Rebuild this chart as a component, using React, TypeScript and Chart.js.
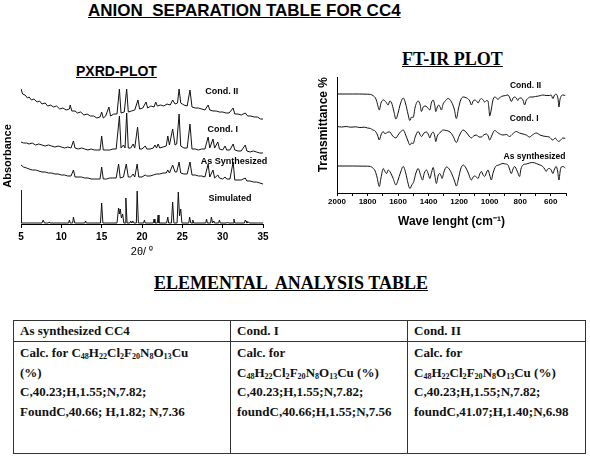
import React, { useEffect, useRef } from 'react';
import { Chart, registerables } from 'chart.js';

Chart.register(...registerables);

// ---------------- PXRD data (2θ in degrees, stacked absorbance, arbitrary units) ----------------
const xrdCond2: [number, number][] = [
  [5, 135], [5.2, 130], [5.5, 129], [5.8, 126], [6, 127], [6.3, 124], [6.6, 125], [7, 122], [7.3, 123], [7.6, 120],
  [8, 121], [8.3, 118], [8.7, 119], [9, 117], [9.4, 118], [9.8, 115], [10.2, 116], [10.6, 114], [11, 115], [11.1, 119],
  [11.3, 113], [11.7, 113], [12, 111], [12.4, 112], [12.8, 109], [13.2, 110], [13.6, 108], [14, 108], [14.4, 106], [14.8, 107],
  [15, 112], [15.2, 106], [15.5, 108], [15.9, 117], [16.1, 108], [16.5, 110], [16.9, 110], [17.2, 135], [17.4, 111], [17.8, 112],
  [18.1, 135], [18.3, 112], [18.7, 113], [19.1, 114], [19.5, 124], [19.7, 115], [20.1, 116], [20.5, 122], [20.7, 116], [21.1, 118],
  [21.5, 117], [21.7, 122], [21.9, 118], [22.3, 119], [22.7, 118], [23.1, 120], [23.5, 119], [23.8, 124], [24.1, 120], [24.4, 121],
  [24.6, 135], [24.8, 121], [25.2, 119], [25.6, 118], [25.95, 134], [26.2, 117], [26.6, 116], [27, 116], [27.4, 115], [27.8, 114],
  [28.2, 119], [28.4, 114], [28.8, 113], [29.2, 113], [29.6, 112], [30, 112], [30.4, 111], [30.8, 111], [31.3, 116], [31.5, 110],
  [31.9, 110], [32.3, 109], [32.8, 111], [33.1, 108], [33.5, 108], [33.9, 107], [34.3, 107], [34.7, 105], [35, 105],
];

const xrdCond1: [number, number][] = [
  [5, 82], [5.3, 81], [5.7, 81], [6, 80], [6.4, 81], [6.8, 79], [7.2, 80], [7.6, 79], [8, 78], [8.4, 79],
  [8.8, 78], [9.2, 77], [9.6, 78], [10, 77], [10.4, 76], [10.8, 77], [11.2, 76], [11.5, 83], [11.7, 76], [12.1, 75],
  [12.5, 76], [12.9, 75], [13.3, 74], [13.7, 75], [14.1, 74], [14.5, 74], [14.8, 74], [15, 88], [15.2, 74], [15.6, 74],
  [16, 74], [16.4, 75], [16.8, 75], [17.2, 108], [17.4, 76], [17.7, 79], [17.9, 76], [18.1, 111], [18.3, 76], [18.6, 76],
  [18.9, 80], [19.1, 76], [19.45, 97], [19.7, 75], [20, 75], [20.4, 78], [20.6, 75], [21, 75], [21.4, 76], [21.6, 79],
  [21.8, 76], [22, 80], [22.2, 76], [22.6, 77], [23, 78], [23.2, 88], [23.4, 79], [23.8, 95], [24.1, 79], [24.3, 80],
  [24.6, 110], [24.8, 78], [25.2, 76], [25.6, 76], [25.95, 100], [26.2, 75], [26.6, 75], [27, 74], [27.4, 75], [27.8, 75],
  [28.2, 87], [28.4, 76], [28.8, 85], [29, 76], [29.4, 82], [29.6, 75], [30, 74], [30.3, 78], [30.5, 74], [30.9, 74],
  [31.3, 80], [31.5, 74], [31.9, 73], [32.3, 73], [32.8, 79], [33, 73], [33.4, 72], [33.8, 73], [34.2, 72], [34.6, 71], [35, 71],
];

const xrdAsSynth: [number, number][] = [
  [5, 59], [5.3, 57], [5.7, 56], [6, 55], [6.4, 54], [6.8, 54], [7.2, 53], [7.6, 52], [8, 52], [8.4, 51],
  [8.8, 51], [9.2, 50], [9.6, 50], [10, 49], [10.4, 49], [10.8, 48], [11.2, 48], [11.5, 54], [11.7, 47], [12.1, 47],
  [12.5, 47], [12.9, 46], [13.3, 46], [13.7, 45], [14.1, 45], [14.5, 45], [14.8, 45], [15, 57], [15.2, 45], [15.6, 45],
  [16, 46], [16.4, 46], [16.8, 46], [17.1, 60], [17.3, 46], [17.7, 47], [18.05, 60], [18.3, 47], [18.6, 47], [18.9, 50],
  [19.1, 47], [19.4, 60], [19.6, 47], [20, 47], [20.4, 49], [20.6, 48], [21, 48], [21.4, 49], [21.8, 50], [22.2, 50],
  [22.6, 51], [23, 51], [23.2, 54], [23.4, 51], [23.8, 59], [24.1, 52], [24.3, 52], [24.6, 62], [24.8, 51], [25.2, 50],
  [25.6, 50], [25.95, 62], [26.2, 49], [26.6, 49], [27, 48], [27.4, 48], [27.8, 47], [28.2, 60], [28.4, 47], [28.8, 54],
  [29, 46], [29.4, 49], [29.6, 46], [30, 45], [30.3, 47], [30.5, 45], [30.9, 45], [31.3, 62], [31.5, 44], [31.9, 44],
  [32.3, 44], [32.8, 46], [33, 43], [33.4, 43], [33.8, 42], [34.2, 42], [34.6, 41], [35, 40],
];

const xrdSimulated: [number, number][] = [
  [5, 34], [5.02, 1], [5.5, 1], [6, 1], [7, 1], [7.6, 1], [7.75, 4], [7.9, 1], [8.4, 1], [8.5, 2],
  [8.6, 1], [10, 1], [10.9, 1], [11, 4], [11.1, 1], [11.4, 1], [11.5, 7], [11.65, 1], [12.9, 1], [13, 3],
  [13.1, 1], [14.85, 1], [15, 21], [15.15, 1], [16.9, 1], [17.1, 16], [17.2, 10], [17.3, 15], [17.45, 6], [17.6, 10],
  [17.75, 1], [17.9, 1], [18, 26], [18.15, 1], [18.5, 1], [18.6, 3], [18.75, 1], [18.85, 3], [19, 1], [19.3, 1],
  [19.4, 33], [19.55, 1], [20.2, 1], [20.3, 4], [20.4, 1], [21.4, 1], [21.5, 5], [21.6, 1], [21.9, 1], [22, 9],
  [22.1, 1], [23.05, 1], [23.2, 7], [23.3, 1], [23.65, 1], [23.8, 22], [23.95, 1], [24.35, 1], [24.5, 32], [24.65, 8],
  [24.8, 15], [24.95, 1], [25.8, 1], [25.9, 7], [26.05, 1], [26.2, 1], [26.3, 4], [26.4, 1], [27.9, 1], [28, 5],
  [28.1, 1], [28.5, 1], [28.6, 7], [28.75, 1], [28.8, 1], [28.9, 3], [29, 1], [29.5, 1], [29.6, 4], [29.7, 1],
  [30.5, 1], [30.6, 2], [30.7, 1], [31.3, 1], [31.4, 5], [31.5, 1], [32.7, 1], [32.8, 4], [32.9, 3], [33, 1],
  [33.2, 2], [33.3, 1], [34.3, 1], [34.4, 1], [35, 1],
];

const xrdLabels = [
  { text: 'Cond. II', x: 29.9, y: 132 },
  { text: 'Cond. I', x: 30.0, y: 94 },
  { text: 'As Synthesized', x: 31.4, y: 62 },
  { text: 'Simulated', x: 30.9, y: 25 },
];

// ---------------- FT-IR data (wavenumber cm-1, stacked transmittance) ----------------
const irCond2: [number, number][] = [
  [2000, 99], [1900, 99], [1800, 98.8], [1780, 98.5], [1760, 97], [1745, 94], [1735, 89], [1723, 83], [1712, 90], [1697, 93],
  [1682, 91.5], [1665, 88], [1654, 92], [1642, 90], [1628, 82], [1614, 74], [1600, 80], [1585, 89], [1566, 95], [1550, 89],
  [1535, 79], [1523, 72.5], [1512, 76], [1501, 75.5], [1488, 86], [1468, 92], [1455, 88], [1447, 81.5], [1435, 86], [1425, 87],
  [1410, 86], [1392, 83], [1382, 90], [1370, 93], [1360, 88], [1353, 81.5], [1343, 86], [1333, 88], [1325, 86], [1316, 83],
  [1305, 89], [1294, 91.5], [1272, 94.5], [1250, 91], [1232, 84], [1218, 74.5], [1205, 84], [1190, 93], [1174, 96], [1150, 95],
  [1130, 92], [1120, 88], [1108, 92], [1098, 93], [1086, 92], [1076, 90], [1065, 93], [1054, 94.5], [1043, 93], [1033, 91],
  [1020, 92.5], [1011, 92], [1005, 85], [1000, 77], [990, 83], [980, 92], [967, 96], [955, 95], [946, 93.5], [930, 96],
  [913, 97], [895, 97.5], [880, 98], [868, 95], [858, 91.5], [847, 95], [837, 96], [826, 95], [815, 92.5], [805, 95],
  [795, 95], [782, 93], [771, 88], [760, 93], [750, 94.5], [735, 96], [717, 96], [700, 96.5], [680, 97], [665, 97.5],
  [652, 98], [630, 97.5], [610, 97.5], [597, 98], [586, 94.5], [575, 98], [564, 98.7], [552, 94], [546, 86], [540, 93],
  [531, 97], [520, 98], [505, 97.5],
];

const irCond1: [number, number][] = [
  [2000, 66.5], [1970, 66], [1940, 66.5], [1910, 65.8], [1880, 66.2], [1850, 65.5], [1820, 65.8], [1800, 65], [1780, 64.5], [1765, 63],
  [1750, 62], [1735, 58], [1723, 53], [1712, 58], [1697, 61.5], [1688, 59.5], [1675, 60], [1665, 61], [1654, 61], [1640, 58],
  [1628, 56], [1614, 55], [1600, 58], [1585, 61], [1566, 63], [1550, 58], [1535, 52], [1523, 48], [1512, 50], [1501, 49.5],
  [1488, 56], [1468, 61.5], [1455, 58], [1447, 56.5], [1430, 60], [1414, 61], [1400, 58], [1392, 55], [1382, 59], [1370, 61],
  [1360, 57], [1353, 51.5], [1343, 57], [1327, 60], [1305, 63], [1285, 62.5], [1260, 61], [1240, 57], [1218, 50.5], [1200, 57],
  [1174, 63], [1150, 60], [1130, 56], [1120, 55], [1105, 57], [1087, 58], [1070, 56], [1054, 56], [1040, 58], [1022, 59],
  [1010, 57], [1000, 53], [990, 56], [967, 62.5], [945, 60], [913, 58], [890, 58.5], [870, 56.5], [850, 59], [826, 61.5],
  [805, 60], [782, 59], [760, 58], [739, 56], [720, 58], [695, 60], [670, 58], [650, 57], [630, 56.5], [610, 56],
  [586, 53], [570, 55], [560, 53], [546, 51.5], [535, 53], [520, 55], [505, 54.7],
];

const irAsSynth: [number, number][] = [
  [2000, 27], [1900, 27], [1800, 26.8], [1780, 26.5], [1765, 25], [1750, 22], [1738, 16], [1723, 6.5], [1712, 15], [1697, 24.5],
  [1688, 22], [1675, 19.5], [1665, 23], [1654, 21.5], [1642, 18], [1632, 14.5], [1614, 8], [1600, 13], [1585, 20], [1566, 26.5],
  [1550, 20], [1535, 10], [1523, 4.5], [1510, 8], [1497, 11.5], [1485, 19], [1468, 24.5], [1455, 19], [1440, 13], [1428, 20],
  [1414, 23], [1402, 19], [1392, 14.5], [1380, 21], [1370, 25.5], [1360, 18], [1349, 9.5], [1338, 17], [1327, 19.5], [1318, 17],
  [1312, 14.5], [1300, 21], [1283, 26], [1265, 24], [1245, 18], [1230, 12], [1218, 7], [1205, 14], [1190, 24], [1174, 28],
  [1155, 25], [1140, 20], [1120, 13], [1108, 16], [1098, 17], [1087, 16], [1076, 14.5], [1065, 19], [1054, 21.5], [1043, 18],
  [1033, 16.5], [1022, 20], [1011, 23], [1000, 18], [989, 13], [978, 20], [961, 26.5], [940, 28], [913, 29.5], [895, 29],
  [880, 28], [870, 24], [858, 19.5], [847, 24], [837, 26.5], [820, 22], [804, 16.5], [795, 24], [782, 28], [760, 29],
  [740, 30], [717, 30.5], [695, 29.5], [670, 28], [652, 26.5], [640, 24], [630, 21.5], [620, 24], [608, 24.5], [597, 23],
  [586, 19.5], [575, 24], [564, 26.5], [555, 22], [546, 13], [538, 22], [531, 26], [520, 26.5], [505, 25],
];

const irTickValues = [2000, 1900, 1800, 1700, 1600, 1500, 1400, 1300, 1200, 1100, 1000, 900, 800, 700, 600, 500];

const irLabels = [
  { text: 'Cond. II', x: 765, y: 107 },
  { text: 'Cond. I', x: 774, y: 74 },
  { text: 'As synthesized', x: 706, y: 36 },
];

// ---------------- Elemental analysis table ----------------
const tableHeaders = ['As synthesized CC4', 'Cond. I', 'Cond. II'];
const calcValues = 'C,40.23;H,1.55;N,7.82;';
const foundValues = ['FoundC,40.66; H,1.82; N,7.36', 'foundC,40.66;H,1.55;N,7.56', 'foundC,41.07;H,1.40;N,6.98'];

const SANS = '"Liberation Sans", Arial, sans-serif';
const SERIF = '"Liberation Serif", "Times New Roman", serif';

const labelPlugin = {
  id: 'seriesLabels',
  afterDatasetsDraw(chart: any, _args: any, opts: any) {
    const { ctx } = chart;
    const x = chart.scales.x;
    const y = chart.scales.y;
    ctx.save();
    ctx.font = opts.font;
    ctx.fillStyle = '#000';
    ctx.textAlign = 'center';
    ctx.textBaseline = 'middle';
    for (const l of opts.items) {
      ctx.fillText(l.text, x.getPixelForValue(l.x), y.getPixelForValue(l.y));
    }
    ctx.restore();
  },
};

const toPts = (arr: [number, number][]) => arr.map(([x, y]) => ({ x, y }));

function lineSet(arr: [number, number][], smooth: boolean) {
  return {
    data: toPts(arr),
    borderColor: '#111',
    borderWidth: 1,
    pointRadius: 0,
    fill: false,
    cubicInterpolationMode: smooth ? 'monotone' : 'default',
    tension: 0,
  };
}

function xrdConfig(): any {
  return {
    type: 'line',
    data: {
      datasets: [xrdCond2, xrdCond1, xrdAsSynth, xrdSimulated].map((d) => lineSet(d, false)),
    },
    options: {
      animation: false,
      responsive: false,
      layout: { padding: { top: 28, left: 0, right: 27, bottom: 6 } },
      plugins: {
        legend: { display: false },
        tooltip: { enabled: false },
        seriesLabels: { font: `bold 9px ${SANS}`, items: xrdLabels },
      },
      scales: {
        x: {
          type: 'linear',
          min: 5,
          max: 35,
          ticks: { stepSize: 5, color: '#000', font: { family: SANS, weight: 'bold', size: 10 }, padding: 3, maxRotation: 0, autoSkip: false },
          grid: { display: true, drawOnChartArea: false, drawTicks: true, tickLength: 4, color: '#000' },
          border: { display: true, color: '#000', width: 1 },
          title: { display: true, text: '2θ/ ⁰', color: '#000', font: { family: SANS, size: 11 }, padding: { top: 0, bottom: 0 } },
          afterFit: (s: any) => { s.height = 35; },
        },
        y: {
          type: 'linear',
          min: 0,
          max: 136,
          ticks: { display: false },
          grid: { display: false },
          border: { display: false },
          title: { display: true, text: 'Absorbance', color: '#000', font: { family: SANS, size: 11, weight: 'bold' }, padding: { top: 1.4, bottom: 0 } },
          afterFit: (s: any) => { s.width = 21; },
        },
      },
    },
    plugins: [labelPlugin],
  };
}

function irConfig(): any {
  return {
    type: 'line',
    data: {
      datasets: [irCond2, irCond1, irAsSynth].map((d) => lineSet(d, true)),
    },
    options: {
      animation: false,
      responsive: false,
      layout: { padding: { top: 47, left: 0, right: 24, bottom: 6 } },
      plugins: {
        legend: { display: false },
        tooltip: { enabled: false },
        seriesLabels: { font: `bold 8.5px ${SANS}`, items: irLabels },
      },
      scales: {
        x: {
          type: 'linear',
          min: 500,
          max: 2000,
          reverse: true,
          afterBuildTicks: (s: any) => { s.ticks = irTickValues.map((v) => ({ value: v })); },
          ticks: {
            color: '#000',
            font: { family: SANS, weight: 'bold', size: 8 },
            padding: 1,
            maxRotation: 0,
            autoSkip: false,
            callback: (v: number) => (v % 200 === 0 ? String(v) : ''),
          },
          grid: { display: true, drawOnChartArea: false, drawTicks: true, tickLength: 3, color: '#000' },
          border: { display: true, color: '#000', width: 1 },
          title: { display: true, text: 'Wave lenght (cm⁻¹)', color: '#000', font: { family: SANS, size: 12, weight: 'bold' }, padding: { top: 0, bottom: 0 } },
          afterFit: (s: any) => { s.height = 36; },
        },
        y: {
          type: 'linear',
          min: 0,
          max: 116,
          ticks: { display: false },
          grid: { display: false },
          border: { display: true, color: '#000', width: 1 },
          title: { display: true, text: 'Transmittance %', align: 'end', color: '#000', font: { family: SANS, size: 12, weight: 'bold' }, padding: { top: 26, bottom: 0 } },
          afterFit: (s: any) => { s.width = 47; },
        },
      },
    },
    plugins: [labelPlugin],
  };
}

function ChartCanvas({ make, left, top, width, height }: { make: () => any; left: number; top: number; width: number; height: number }) {
  const ref = useRef<HTMLCanvasElement | null>(null);
  useEffect(() => {
    const chart = new Chart(ref.current as HTMLCanvasElement, make());
    return () => chart.destroy();
  }, []);
  return <canvas ref={ref} width={width} height={height} style={{ position: 'absolute', left, top, width, height }} />;
}

const subStyle: React.CSSProperties = { fontSize: '0.62em', lineHeight: 0, verticalAlign: '-0.3em' };
const Formula = () => (
  <>
    C<sub style={subStyle}>48</sub>H<sub style={subStyle}>22</sub>Cl<sub style={subStyle}>2</sub>F<sub style={subStyle}>20</sub>N
    <sub style={subStyle}>8</sub>O<sub style={subStyle}>13</sub>Cu
  </>
);

export default function App() {
  const cell: React.CSSProperties = { border: '1px solid #333', padding: '1px 6px 0 6px', verticalAlign: 'top' };
  const head: React.CSSProperties = { border: '1px solid #333', padding: '0 6px', height: 20, verticalAlign: 'middle' };
  return (
    <div style={{ position: 'absolute', left: 0, top: 0, width: 590, height: 457, background: '#fff', overflow: 'hidden' }}>
      <div style={{ position: 'absolute', left: 88, top: 2, font: `bold 17px ${SANS}`, lineHeight: '17px', textDecoration: 'underline', whiteSpace: 'pre' }}>
        {'ANION  SEPARATION TABLE FOR CC4'}
      </div>
      <div style={{ position: 'absolute', left: 76, top: 64, font: `bold 14px ${SANS}`, lineHeight: '14px', textDecoration: 'underline', whiteSpace: 'pre' }}>
        PXRD-PLOT
      </div>
      <div style={{ position: 'absolute', left: 402, top: 50, font: `bold 18px ${SERIF}`, lineHeight: '18px', textDecoration: 'underline', whiteSpace: 'pre' }}>
        FT-IR PLOT
      </div>
      <div style={{ position: 'absolute', left: 154, top: 274, font: `bold 18px ${SERIF}`, lineHeight: '18px', textDecoration: 'underline', whiteSpace: 'pre' }}>
        {'ELEMENTAL  ANALYSIS TABLE'}
      </div>

      <ChartCanvas make={xrdConfig} left={0} top={60} width={290} height={205} />
      <ChartCanvas make={irConfig} left={290} top={30} width={300} height={205} />

      <table
        style={{
          position: 'absolute',
          left: 13,
          top: 320,
          width: 572,
          borderCollapse: 'collapse',
          tableLayout: 'fixed',
          fontFamily: SERIF,
          fontWeight: 'bold',
          fontSize: 13,
          lineHeight: '19.5px',
          color: '#111',
        }}
      >
        <colgroup>
          <col style={{ width: 217 }} />
          <col style={{ width: 177 }} />
          <col style={{ width: 178 }} />
        </colgroup>
        <tbody>
          <tr>
            {tableHeaders.map((h) => (
              <td key={h} style={head}>{h}</td>
            ))}
          </tr>
          <tr style={{ height: 112 }}>
            <td style={cell}>
              Calc. for <Formula />
              <br />(%)
              <br />{calcValues}
              <br />{foundValues[0]}
            </td>
            <td style={cell}>
              Calc. for
              <br /><Formula /> (%)
              <br />{calcValues}
              <br />{foundValues[1]}
            </td>
            <td style={cell}>
              Calc. for
              <br /><Formula /> (%)
              <br />{calcValues}
              <br />{foundValues[2]}
            </td>
          </tr>
        </tbody>
      </table>
    </div>
  );
}
